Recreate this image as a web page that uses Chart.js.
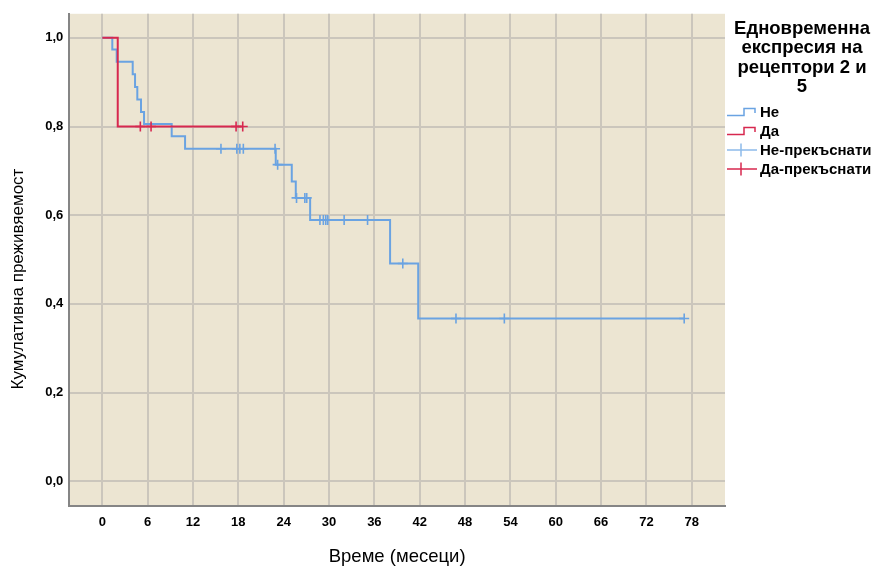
<!DOCTYPE html>
<html>
<head>
<meta charset="utf-8">
<script src="https://cdn.jsdelivr.net/npm/chart.js@4.4.1/dist/chart.umd.min.js"></script>
<style>
  html, body { margin: 0; padding: 0; background: #ffffff; }
  #wrap { position: relative; width: 877px; height: 568px; }
  #legend { position: absolute; left: 727px; top: 18px; width: 150px; font-family: 'Liberation Sans', Arial, sans-serif; color: #000; }
  #legend .title { font-weight: bold; font-size: 18.5px; line-height: 19.3px; text-align: center; }
  #legend .items { margin-top: 7px; }
  #legend .row { display: flex; align-items: center; height: 19px; font-weight: bold; font-size: 15px; }
  #legend svg { width: 31px; height: 16px; margin-right: 2px; flex: none; }
</style>
</head>
<body>
<div id="wrap">
  <canvas id="c" width="877" height="568"></canvas>
  <div id="legend">
    <div class="title">Едновременна<br>експресия на<br>рецептори 2 и<br>5</div>
    <div class="items">
      <div class="row"><svg viewBox="0 0 31 16"><path d="M0 11.5 H17 V4.5 H28 V9" fill="none" stroke="#6aa3e2" stroke-width="1.5"/></svg>Не</div>
      <div class="row"><svg viewBox="0 0 31 16"><path d="M0 11.5 H17 V4.5 H28 V9" fill="none" stroke="#d7284f" stroke-width="1.5"/></svg>Да</div>
      <div class="row"><svg viewBox="0 0 31 16"><path d="M0 8 H30 M14 1.5 V14.5" fill="none" stroke="#8dbbea" stroke-width="1.5"/></svg>Не-прекъснати</div>
      <div class="row"><svg viewBox="0 0 31 16"><path d="M0 8 H30 M14 1.5 V14.5" fill="none" stroke="#d7284f" stroke-width="1.5"/></svg>Да-прекъснати</div>
    </div>
  </div>
</div>
<script>
// ---- data ----
const xTickValues = [0, 6, 12, 18, 24, 30, 36, 42, 48, 54, 60, 66, 72, 78];
const yTickValues = [0, 0.2, 0.4, 0.6, 0.8, 1.0];

// group "Не" (no) – survival step function
const neTimes = [0, 1.32, 1.9, 4.02, 4.33, 4.63, 5.12, 5.52, 9.18, 10.95, 22.95, 25.07, 25.6, 27.5, 38.08, 41.8, 77.0];
const neSurv  = [1.0, 0.974, 0.946, 0.918, 0.889, 0.861, 0.833, 0.806, 0.778, 0.750, 0.714, 0.676, 0.639, 0.589, 0.491, 0.367, 0.367];
// group "Не" censored
const neCensTimes = [15.7, 17.8, 18.2, 18.66, 22.86, 23.2, 25.7, 26.8, 27.05, 28.8, 29.25, 29.57, 29.83, 32.0, 35.1, 39.76, 46.8, 53.2, 77.0];
const neCensSurv  = [0.750, 0.750, 0.750, 0.750, 0.750, 0.714, 0.639, 0.639, 0.639, 0.589, 0.589, 0.589, 0.589, 0.589, 0.589, 0.491, 0.367, 0.367, 0.367];

// group "Да" (yes)
const daTimes = [0, 2.04, 18.58];
const daSurv  = [1.0, 0.8, 0.8];
const daCensTimes = [5.03, 6.45, 17.7, 18.58];
const daCensSurv  = [0.8, 0.8, 0.8, 0.8];

const xTitle = 'Време (месеци)';
const yTitle = 'Кумулативна преживяемост';

// ---- build ----
const toPts = (xs, ys) => xs.map((x, i) => ({ x: x, y: ys[i] }));
const BLUE = '#6aa3e2';
const RED = '#d7284f';

const bgPlugin = {
  id: 'plotBg',
  beforeDraw(chart) {
    const a = chart.chartArea, ctx = chart.ctx;
    ctx.save();
    ctx.fillStyle = '#ece5d2';
    ctx.fillRect(a.left, a.top, a.right - a.left, a.bottom - a.top);
    ctx.restore();
  }
};

// y-axis title drawn centred on the canvas height, as in the reference
const yTitlePlugin = {
  id: 'yTitle',
  afterDraw(chart) {
    const ctx = chart.ctx;
    ctx.save();
    ctx.translate(18.5, chart.height / 2 - 5);
    ctx.rotate(-Math.PI / 2);
    ctx.font = "17px 'Liberation Sans', Arial, sans-serif";
    ctx.fillStyle = '#000';
    ctx.textAlign = 'center';
    ctx.textBaseline = 'middle';
    ctx.fillText(yTitle, 0, 0);
    ctx.restore();
  }
};

const tickFont = { family: "'Liberation Sans', Arial, sans-serif", size: 13, weight: 'bold' };
const xTitleFont = { family: "'Liberation Sans', Arial, sans-serif", size: 18.5, weight: 'normal' };

new Chart(document.getElementById('c'), {
  type: 'scatter',
  data: {
    datasets: [
      { label: 'Да-прекъснати', data: toPts(daCensTimes, daCensSurv), showLine: false,
        pointStyle: 'cross', pointRadius: 5, pointBorderWidth: 1.6, borderColor: RED, backgroundColor: RED, order: 0 },
      { label: 'Да', data: toPts(daTimes, daSurv), showLine: true, stepped: 'before',
        borderColor: RED, borderWidth: 2, pointRadius: 0, fill: false, order: 1 },
      { label: 'Не-прекъснати', data: toPts(neCensTimes, neCensSurv), showLine: false,
        pointStyle: 'cross', pointRadius: 5, pointBorderWidth: 1.6, borderColor: BLUE, backgroundColor: BLUE, order: 2 },
      { label: 'Не', data: toPts(neTimes, neSurv), showLine: true, stepped: 'before',
        borderColor: BLUE, borderWidth: 2, pointRadius: 0, fill: false, order: 3 }
    ]
  },
  options: {
    responsive: false,
    animation: false,
    devicePixelRatio: 1,
    layout: { padding: { top: 9, right: 152, left: 0, bottom: 0 } },
    plugins: { legend: { display: false }, tooltip: { enabled: false } },
    scales: {
      x: {
        type: 'linear', min: -4.37, max: 82.4,
        afterBuildTicks: s => { s.ticks = xTickValues.map(v => ({ value: v })); },
        afterFit: s => { s.height = 62.3; },
        ticks: { font: tickFont, color: '#000', padding: 9, maxRotation: 0, autoSkip: false },
        grid: { color: '#cbc6bc', lineWidth: 2, drawTicks: false },
        border: { display: true, color: '#858585', width: 2 },
        title: { display: true, text: xTitle, font: xTitleFont, color: '#000', padding: { top: 0, bottom: 0 } }
      },
      y: {
        type: 'linear', min: -0.0552, max: 1.0543,
        afterBuildTicks: s => { s.ticks = yTickValues.map(v => ({ value: v })); },
        afterFit: s => { s.width = 69.3; },
        ticks: { font: tickFont, color: '#000', padding: 6,
                 callback: v => v.toFixed(1).replace('.', ',') },
        grid: { color: '#cbc6bc', lineWidth: 2, drawTicks: false },
        border: { display: true, color: '#858585', width: 2 },
        title: { display: false, text: yTitle }
      }
    }
  },
  plugins: [bgPlugin, yTitlePlugin]
});
</script>
</body>
</html>
